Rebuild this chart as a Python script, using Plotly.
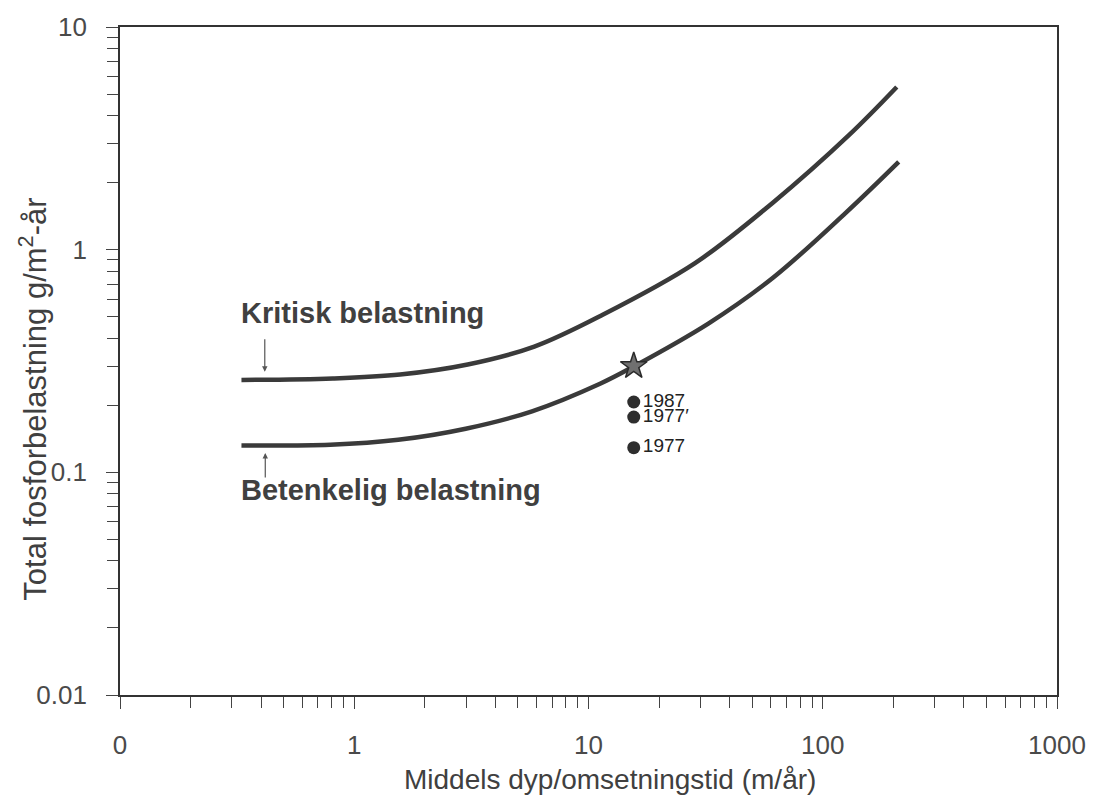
import math
import plotly.graph_objects as go

# Critical and "concerning" phosphorus loading curves (Vollenweider-type)
kritisk_x = [0.33, 0.81, 1.57, 3.05, 5.87, 11.5, 28.5, 61.4, 129, 207]
kritisk_y = [0.260, 0.264, 0.275, 0.305, 0.367, 0.51, 0.87, 1.63, 3.26, 5.38]

betenkelig_x = [0.33, 0.79, 1.54, 2.99, 5.74, 11.2, 15.6, 32.6, 61.5, 125, 211]
betenkelig_y = [0.132, 0.133, 0.140, 0.157, 0.188, 0.25, 0.299, 0.467, 0.75, 1.46, 2.48]

# Observed lake loadings
star_x = [15.6]
star_y = [0.30]
obs_x = [15.6, 15.6, 15.6]
obs_y = [0.207, 0.177, 0.129]
obs_labels = ["1987", "1977′", "1977"]

# Axis ticks
x_major = [0.1, 1, 10, 100, 1000]
x_major_text = ["0", "1", "10", "100", "1000"]
y_major = [0.01, 0.1, 1, 10]
y_major_text = ["0.01", "0.1", "1", "10"]
minor_factors = [2, 3, 4, 5, 6, 7, 8, 9]

x_minor = [d * f for d in [0.1, 1, 10, 100] for f in minor_factors]
y_minor = [d * f for d in [0.01, 0.1, 1] for f in minor_factors]

line_col = "#3a3a3a"
text_col = "#404040"
tick_col = "#4a4a4a"
font_fam = "Liberation Sans, Arial, sans-serif"

# Plot area in pixels
W, H = 1107, 804
ML, MR, MT, MB = 120, 50, 21, 109
plot_w = W - ML - MR
plot_h = H - MT - MB

fig = go.Figure()

fig.add_trace(go.Scatter(
    x=kritisk_x, y=kritisk_y, mode="lines",
    line=dict(color=line_col, width=4.5, shape="spline", smoothing=1.0),
    showlegend=False, hoverinfo="skip"))

fig.add_trace(go.Scatter(
    x=betenkelig_x, y=betenkelig_y, mode="lines",
    line=dict(color=line_col, width=4.5, shape="spline", smoothing=1.0),
    showlegend=False, hoverinfo="skip"))

fig.add_trace(go.Scatter(
    x=star_x, y=star_y, mode="markers",
    marker=dict(symbol="star", size=20, color="#707070",
                line=dict(color="#2a2a2a", width=1.5)),
    showlegend=False, hoverinfo="skip"))

fig.add_trace(go.Scatter(
    x=obs_x, y=obs_y, mode="markers+text",
    text=obs_labels, textposition="middle right",
    textfont=dict(family=font_fam, size=19, color="#222222"),
    marker=dict(symbol="circle", size=13, color="#2e2e2e"),
    showlegend=False, hoverinfo="skip"))

lg = math.log10

# Curve labels with their pointer arrows
fig.add_annotation(
    x=lg(0.415), y=lg(0.283), xref="x", yref="y",
    ax=0, ay=-34, showarrow=True, arrowhead=2, arrowsize=0.9,
    arrowwidth=1.2, arrowcolor="#555555", text="")
fig.add_annotation(
    x=lg(0.323), y=lg(0.517), xref="x", yref="y",
    showarrow=False, text="Kritisk belastning",
    xanchor="left", yanchor="middle",
    font=dict(family=font_fam, size=29, color=text_col, weight="bold"))

fig.add_annotation(
    x=lg(0.417), y=lg(0.122), xref="x", yref="y",
    ax=0, ay=26, showarrow=True, arrowhead=2, arrowsize=0.9,
    arrowwidth=1.2, arrowcolor="#555555", text="")
fig.add_annotation(
    x=lg(0.323), y=lg(0.0834), xref="x", yref="y",
    showarrow=False, text="Betenkelig belastning",
    xanchor="left", yanchor="middle",
    font=dict(family=font_fam, size=29, color=text_col, weight="bold"))

# Axis titles, placed by pixel position
fig.add_annotation(
    x=(610 - ML) / plot_w, y=(H - 780 - MB) / plot_h,
    xref="paper", yref="paper", showarrow=False,
    xanchor="center", yanchor="middle",
    text="Middels dyp/omsetningstid (m/år)",
    font=dict(family=font_fam, size=28, color=text_col))
fig.add_annotation(
    x=(33 - ML) / plot_w, y=(H - 397 - MB) / plot_h,
    xref="paper", yref="paper", showarrow=False,
    xanchor="center", yanchor="middle",
    text="Total fosforbelastning g/m<sup>2</sup>-år", textangle=-90,
    font=dict(family=font_fam, size=31, color=text_col))

axis_common = dict(
    type="log",
    showgrid=False, zeroline=False,
    showline=True, mirror=True, linecolor="#333333", linewidth=1.7,
    ticks="outside", ticklen=12, tickwidth=1.2, tickcolor="#444444",
    tickmode="array", ticklabelstandoff=14,
    tickfont=dict(family=font_fam, size=26, color=tick_col),
)

fig.update_layout(
    width=W, height=H,
    margin=dict(l=ML, r=MR, t=MT, b=MB),
    paper_bgcolor="white", plot_bgcolor="white",
    xaxis=dict(
        **axis_common,
        range=[-1, 3],
        tickvals=x_major, ticktext=x_major_text,
        minor=dict(tickmode="array", tickvals=x_minor, ticks="outside",
                   ticklen=11, tickwidth=1.2, tickcolor="#444444"),
    ),
    yaxis=dict(
        **axis_common,
        range=[-2, 1],
        tickvals=y_major, ticktext=y_major_text,
        minor=dict(tickmode="array", tickvals=y_minor, ticks="outside",
                   ticklen=11, tickwidth=1.2, tickcolor="#444444"),
    ),
)

fig.write_html("out.html")
